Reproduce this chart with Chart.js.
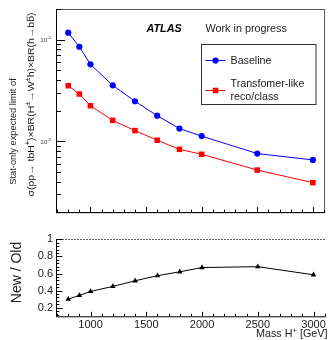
<!DOCTYPE html>
<html>
<head>
<meta charset="utf-8">
<script src="https://cdn.jsdelivr.net/npm/chart.js@4.4.1/dist/chart.umd.min.js"></script>
<style>
  html, body { margin: 0; padding: 0; background: #fff; }
  #wrap { position: relative; width: 329px; height: 340px; }
  canvas { position: absolute; left: 0; }
  #top { top: 0; }
  #bot { top: 225px; }
</style>
</head>
<body>
<div id="wrap">
  <canvas id="top" width="329" height="216"></canvas>
  <canvas id="bot" width="329" height="115"></canvas>
</div>
<script>
// ---------- dados
const masses = [800, 900, 1000, 1200, 1400, 1600, 1800, 2000, 2500, 3000];
const baseline = [0.0117, 0.0085, 0.0057, 0.00354, 0.00247, 0.00178, 0.00133, 0.00112, 0.000754, 0.000653];
const transformer = [0.00351, 0.00291, 0.00223, 0.0016, 0.00127, 0.00102, 0.00083, 0.000742, 0.000519, 0.00039];
const ratio = [0.30, 0.345, 0.39, 0.45, 0.515, 0.575, 0.62, 0.67, 0.68, 0.585];
const logTickLabels = [[1e-2, '-2'], [1e-3, '-3']];
const ratioTicks = [0.2, 0.4, 0.6, 0.8, 1];
const massTicks = [1000, 1500, 2000, 2500, 3000];

const FONT = '"Liberation Sans", Arial, Helvetica, sans-serif';
const X_MIN = 690, X_MAX = 3110;

// texto com sobrescritos / barra
function richWidth(ctx, segs, size) {
  let w = 0;
  segs.forEach(s => {
    ctx.font = `${s.sup ? size * 0.7 : size}px ${FONT}`;
    w += ctx.measureText(s.t).width;
  });
  return w;
}
function drawRich(ctx, segs, x, y, size, align) {
  const w = richWidth(ctx, segs, size);
  let cx = align === 'right' ? x - w : align === 'center' ? x - w / 2 : x;
  segs.forEach(s => {
    const sz = s.sup ? size * 0.7 : size;
    ctx.font = `${sz}px ${FONT}`;
    ctx.textAlign = 'left';
    const yy = s.sup ? y - size * 0.38 : y;
    ctx.fillText(s.t, cx, yy);
    const tw = ctx.measureText(s.t).width;
    if (s.bar) {
      ctx.save();
      ctx.lineWidth = 0.7;
      ctx.strokeStyle = ctx.fillStyle;
      ctx.beginPath();
      ctx.moveTo(cx + 0.5, yy - size * 0.45);
      ctx.lineTo(cx + tw - 0.5, yy - size * 0.45);
      ctx.stroke();
      ctx.restore();
    }
    cx += tw;
  });
}

function marker(ctx, style, x, y, r, color) {
  ctx.fillStyle = color;
  ctx.beginPath();
  if (style === 'circle') ctx.arc(x, y, r, 0, Math.PI * 2);
  else { const s = r * Math.SQRT1_2; ctx.rect(x - s, y - s, 2 * s, 2 * s); }
  ctx.fill();
}

// ---------- ticks para dentro (estilo ROOT) e moldura
const topDecor = {
  id: 'topDecor',
  afterDraw(chart) {
    const { ctx, chartArea: a, scales: { x, y } } = chart;
    ctx.save();
    ctx.strokeStyle = '#555';
    ctx.lineWidth = 1;
    ctx.strokeRect(a.left + 0.5, a.top + 0.5, a.right - a.left - 1, a.bottom - a.top);
    ctx.strokeStyle = '#000';
    ctx.beginPath();
    ctx.moveTo(a.left + 0.5, a.top);
    ctx.lineTo(a.left + 0.5, a.bottom + 0.5);
    ctx.lineTo(a.right, a.bottom + 0.5);
    // x ticks
    for (let v = 700; v <= 3100; v += 100) {
      const px = Math.round(x.getPixelForValue(v)) + 0.5;
      const len = v % 500 === 0 ? 5 : 2.5;
      ctx.moveTo(px, a.bottom);
      ctx.lineTo(px, a.bottom - len);
    }
    // y ticks log
    for (let e = -4; e <= -2; e++) {
      for (let m = 1; m <= 9; m++) {
        const v = m * Math.pow(10, e);
        if (v < y.min || v > y.max) continue;
        const py = Math.round(y.getPixelForValue(v)) + 0.5;
        const len = m === 1 ? 9 : 5;
        ctx.moveTo(a.left, py);
        ctx.lineTo(a.left + len, py);
      }
    }
    ctx.stroke();

    // rótulos 10^n
    ctx.fillStyle = '#444';
    ctx.textBaseline = 'middle';
    logTickLabels.forEach(([v, ex]) => {
      const py = y.getPixelForValue(v);
      drawRich(ctx, [{ t: '10' }, { t: ex, sup: true }], 51, py + 1, 6.2, 'right');
    });

    // título do eixo y
    ctx.fillStyle = '#222';
    ctx.save();
    ctx.translate(13.5, 131.5);
    ctx.rotate(-Math.PI / 2);
    drawRich(ctx, [{ t: 'Stat-only expected limit of' }], 0, 0, 9.3, 'center');
    ctx.restore();
    const line2 = [
      { t: 'σ(pp→ tbH' }, { t: '+', sup: true }, { t: ')×BR(H' }, { t: '±', sup: true },
      { t: '→W' }, { t: '±', sup: true }, { t: 'h)×BR(h→b' }, { t: 'b', bar: true }, { t: ')' }
    ];
    ctx.save();
    ctx.translate(31.5, 104.5);
    ctx.rotate(-Math.PI / 2);
    const w2 = richWidth(ctx, line2, 9.6);
    ctx.scale(184 / w2, 1);
    drawRich(ctx, line2, 0, 0, 9.6, 'center');
    ctx.restore();

    // ATLAS / Work in progress
    ctx.textBaseline = 'alphabetic';
    ctx.textAlign = 'left';
    ctx.fillStyle = '#000';
    ctx.font = `italic bold 10.8px ${FONT}`;
    ctx.fillText('ATLAS', 146.5, 32);
    ctx.fillStyle = '#222';
    ctx.font = `10.8px ${FONT}`;
    ctx.fillText('Work in progress', 205.5, 32);

    // legenda
    ctx.fillStyle = '#fff';
    ctx.fillRect(201.5, 44.5, 114.5, 60);
    ctx.strokeStyle = '#333';
    ctx.strokeRect(201.5, 44.5, 114.5, 60);
    const ds = chart.data.datasets;
    const rows = [[60.5, [[ds[0].label, 64]]], [90.5, [['Transfomer-like', 87], ['reco/class', 100]]]];
    rows.forEach(([ly, texts], i) => {
      const d = ds[i];
      ctx.strokeStyle = d.borderColor;
      ctx.lineWidth = 1;
      ctx.beginPath();
      ctx.moveTo(205.5, ly);
      ctx.lineTo(225.5, ly);
      ctx.stroke();
      marker(ctx, d.pointStyle, 215.5, ly, d.pointRadius, d.backgroundColor);
      ctx.fillStyle = '#222';
      ctx.font = `10.7px ${FONT}`;
      texts.forEach(([t, by]) => ctx.fillText(t, 230.5, by));
    });
    ctx.restore();
  }
};

const botDecor = {
  id: 'botDecor',
  afterDraw(chart) {
    const { ctx, chartArea: a, scales: { x, y } } = chart;
    ctx.save();
    // linha pontilhada em 1
    ctx.strokeStyle = '#666';
    ctx.setLineDash([2, 1]);
    ctx.beginPath();
    const p1 = Math.round(y.getPixelForValue(1)) + 0.5;
    ctx.moveTo(a.left, p1);
    ctx.lineTo(a.right, p1);
    ctx.stroke();
    ctx.setLineDash([]);
    ctx.strokeStyle = '#000';
    ctx.lineWidth = 1;
    ctx.beginPath();
    ctx.moveTo(a.left + 0.5, a.top);
    ctx.lineTo(a.left + 0.5, a.bottom + 0.5);
    ctx.lineTo(a.right, a.bottom + 0.5);
    for (let v = 700; v <= 3100; v += 100) {
      const px = Math.round(x.getPixelForValue(v)) + 0.5;
      const len = v % 500 === 0 ? 4.5 : 2.5;
      ctx.moveTo(px, a.bottom);
      ctx.lineTo(px, a.bottom - len);
    }
    for (let k = 3; k <= 25; k++) {
      const v = k * 0.04;
      const py = Math.round(y.getPixelForValue(v)) + 0.5;
      const len = k % 5 === 0 ? 6.5 : 3.3;
      ctx.moveTo(a.left, py);
      ctx.lineTo(a.left + len, py);
    }
    ctx.stroke();

    ctx.fillStyle = '#222';
    ctx.textBaseline = 'alphabetic';
    drawRich(ctx, [{ t: 'Mass H' }, { t: '+', sup: true }, { t: ' [GeV]' }], 327.5, 112, 10.8, 'right');
    ctx.save();
    ctx.translate(17.5, 272.5 - 225);
    ctx.rotate(-Math.PI / 2);
    ctx.textBaseline = 'middle';
    drawRich(ctx, [{ t: 'New / Old' }], 0, 0, 14, 'center');
    ctx.restore();
    ctx.restore();
  }
};

const lineDs = (label, data, color, style, r) => ({
  label, data: masses.map((m, i) => ({ x: m, y: data[i] })),
  borderColor: color, backgroundColor: color, borderWidth: 1,
  pointStyle: style, pointRadius: r, pointBorderWidth: 0, pointHoverRadius: r, tension: 0
});

new Chart(document.getElementById('top'), {
  type: 'line',
  data: {
    datasets: [
      lineDs('Baseline', baseline, '#0000ff', 'circle', 3.1),
      lineDs('Transfomer-like reco/class', transformer, '#ff0000', 'rect', 3.9)
    ]
  },
  options: {
    responsive: false, animation: false, events: [],
    layout: { padding: { left: 0, right: 1, top: 9, bottom: 3.5 } },
    scales: {
      x: { type: 'linear', min: X_MIN, max: X_MAX, display: false },
      y: {
        type: 'logarithmic', min: 2e-4, max: 2e-2,
        afterFit: s => { s.width = 56; },
        grid: { display: false }, border: { display: false },
        ticks: { display: false }
      }
    },
    plugins: { legend: { display: false }, tooltip: { enabled: false } }
  },
  plugins: [topDecor]
});

new Chart(document.getElementById('bot'), {
  type: 'line',
  data: {
    datasets: [lineDs('New / Old', ratio, '#000', 'triangle', 3.2)]
  },
  options: {
    responsive: false, animation: false, events: [],
    layout: { padding: { left: 0, right: 1.3, top: 14.3, bottom: 0 } },
    scales: {
      x: {
        type: 'linear', min: X_MIN, max: X_MAX,
        afterFit: s => { s.height = 23.7; },
        afterBuildTicks: s => { s.ticks = massTicks.map(v => ({ value: v })); },
        grid: { display: false, drawTicks: false }, border: { display: false },
        ticks: { color: '#222', font: { size: 11, family: FONT }, padding: 2, maxRotation: 0, callback: v => String(v) }
      },
      y: {
        min: 0.1, max: 1.0,
        afterFit: s => { s.width = 56; },
        afterBuildTicks: s => { s.ticks = ratioTicks.map(v => ({ value: v })); },
        grid: { display: false, drawTicks: false }, border: { display: false },
        ticks: {
          color: '#222', font: { size: 11, family: FONT }, padding: 3,
          callback: v => (v === 1 ? '1' : v.toFixed(1))
        }
      }
    },
    plugins: { legend: { display: false }, tooltip: { enabled: false } }
  },
  plugins: [botDecor]
});
</script>
</body>
</html>
